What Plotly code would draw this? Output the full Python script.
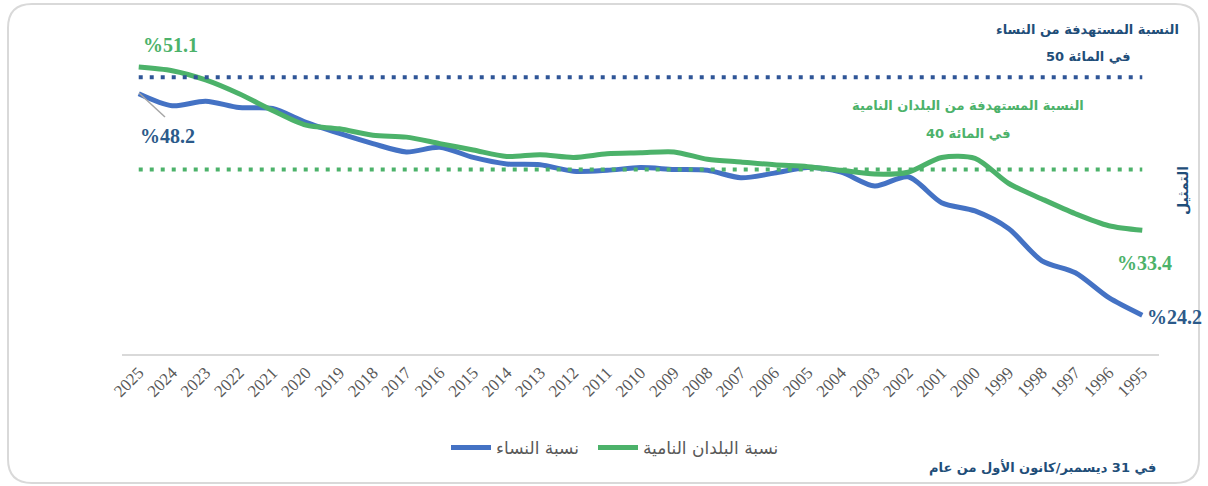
import plotly.graph_objects as go

# ---- data ----
years = list(range(2025, 1994, -1))
women = [48.2, 46.9, 47.4, 46.7, 46.6, 45.1, 43.9, 42.8, 41.9, 42.4, 41.3,
         40.6, 40.5, 39.8, 39.9, 40.2, 40.0, 39.9, 39.1, 39.6, 40.2, 39.7,
         38.2, 39.2, 36.4, 35.5, 33.6, 30.1, 28.8, 26.1, 24.2]
developing = [51.1, 50.7, 49.7, 48.2, 46.4, 44.8, 44.4, 43.7, 43.5, 42.8, 42.1,
              41.4, 41.6, 41.3, 41.7, 41.8, 41.9, 41.1, 40.8, 40.5, 40.3, 39.9,
              39.5, 39.7, 41.3, 41.2, 38.5, 36.8, 35.2, 33.9, 33.4]
target_women = 50
target_developing = 40

name_women = "نسبة النساء"
name_developing = "نسبة البلدان النامية"

BLUE = "#4472C4"
GREEN = "#4CB26A"
DOT_BLUE = "#2F5597"
DOT_GREEN = "#4CB26A"
TXT_BLUE = "#2B5A8A"
TXT_DARK = "#1F4E79"

W, H = 1208, 486
L, R, T, B = 122, 1159, 31, 354


def px(x):
    return (x - L) / (R - L)


def py(y):
    return (B - y) / (B - T)


fig = go.Figure()
fig.add_trace(go.Scatter(x=years, y=women, name=name_women, mode="lines", legend="legend",
                         line=dict(color=BLUE, width=5, shape="spline", smoothing=0.8)))
fig.add_trace(go.Scatter(x=years, y=developing, name=name_developing, mode="lines", legend="legend2",
                         line=dict(color=GREEN, width=5, shape="spline", smoothing=0.8)))
fig.add_trace(go.Scatter(x=[years[0], years[-1]], y=[target_women] * 2, mode="lines",
                         showlegend=False, hoverinfo="skip",
                         line=dict(color=DOT_BLUE, width=4, dash="4px,7px")))
fig.add_trace(go.Scatter(x=[years[0], years[-1]], y=[target_developing] * 2, mode="lines",
                         showlegend=False, hoverinfo="skip",
                         line=dict(color=DOT_GREEN, width=4, dash="4px,7px")))

AR = "DejaVu Sans"
ann = []
ann.append(dict(text="<b>%51.1</b>", x=px(170), y=py(45), font=dict(family="Liberation Serif", size=20, color=GREEN)))
ann.append(dict(text="<b>%48.2</b>", x=px(167), y=py(136), font=dict(family="Liberation Serif", size=20, color=TXT_BLUE)))
ann.append(dict(text="<b>%33.4</b>", x=px(1144), y=py(263), font=dict(family="Liberation Serif", size=20, color=GREEN)))
ann.append(dict(text="<b>%24.2</b>", x=px(1174), y=py(317), font=dict(family="Liberation Serif", size=20, color=TXT_BLUE)))
ann.append(dict(text="<b>النسبة المستهدفة من النساء</b>", x=px(1087), y=py(30),
                font=dict(family=AR, size=13, color=TXT_DARK)))
ann.append(dict(text="<b>في المائة 50</b>", x=px(1088), y=py(56),
                font=dict(family=AR, size=13, color=TXT_DARK)))
ann.append(dict(text="<b>النسبة المستهدفة من البلدان النامية</b>", x=px(968), y=py(105),
                font=dict(family=AR, size=13, color=GREEN)))
ann.append(dict(text="<b>في المائة 40</b>", x=px(968), y=py(133),
                font=dict(family=AR, size=13, color=GREEN)))
ann.append(dict(text="<b>في 31 ديسمبر/كانون الأول من عام</b>", x=px(1042), y=py(467),
                font=dict(family=AR, size=13, color=TXT_DARK)))
ann.append(dict(text="<b>التمثيل</b>", x=px(1183), y=py(191), textangle=-90,
                font=dict(family=AR, size=14, color=TXT_DARK)))
for a in ann:
    a.update(xref="paper", yref="paper", showarrow=False, xanchor="center", yanchor="middle")

# rounded border in pixel space converted to paper
bx0, by0, bx1, by1, rr = 8, 4, 1199, 483, 24


def P(x, y):
    return f"{px(x):.5f},{py(y):.5f}"


path = (f"M {P(bx0 + rr, by0)} L {P(bx1 - rr, by0)} Q {P(bx1, by0)} {P(bx1, by0 + rr)} "
        f"L {P(bx1, by1 - rr)} Q {P(bx1, by1)} {P(bx1 - rr, by1)} "
        f"L {P(bx0 + rr, by1)} Q {P(bx0, by1)} {P(bx0, by1 - rr)} "
        f"L {P(bx0, by0 + rr)} Q {P(bx0, by0)} {P(bx0 + rr, by0)} Z")
shapes = [
    dict(type="path", path=path, xref="paper", yref="paper",
         line=dict(color="#D9D9D9", width=2), layer="below"),
    dict(type="line", xref="paper", yref="paper", x0=px(139), y0=py(93), x1=px(165), y1=py(117),
         line=dict(color="#A6A6A6", width=1.5)),
]

leg_font = dict(family=AR, size=17, color="#595959")
fig.update_layout(
    width=W, height=H,
    margin=dict(l=L, r=W - R, t=T, b=H - B),
    paper_bgcolor="white", plot_bgcolor="white",
    showlegend=True,
    legend=dict(orientation="h", x=px(446), y=py(448), xanchor="left", yanchor="middle",
                font=leg_font, itemwidth=40, bgcolor="rgba(0,0,0,0)"),
    legend2=dict(orientation="h", x=px(593), y=py(448), xanchor="left", yanchor="middle",
                 font=leg_font, itemwidth=40, bgcolor="rgba(0,0,0,0)"),
    xaxis=dict(range=[2025.5, 1994.5], tickmode="array", tickvals=years,
               ticktext=[str(y) for y in years], tickangle=-45, showgrid=False,
               zeroline=False, showline=True, linecolor="#D9D9D9", linewidth=2, ticks="",
               tickfont=dict(family="Liberation Serif", size=17, color="#595959")),
    yaxis=dict(range=[20, 55], visible=False, showgrid=False, zeroline=False),
    annotations=ann, shapes=shapes,
)

fig.write_html("out.html", config={"displayModeBar": False},
               post_script="document.body.style.margin='0px';")
